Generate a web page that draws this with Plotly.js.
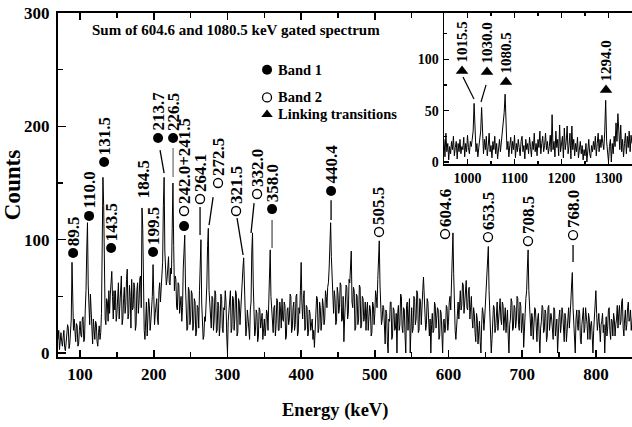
<!DOCTYPE html>
<html><head><meta charset="utf-8">
<script src="https://cdn.plot.ly/plotly-3.0.1.min.js"></script>
<style>html,body{margin:0;padding:0;background:#fff}#chart{width:632px;height:427px}</style>
</head><body><div id="chart"></div>
<script>
// ---------- DATA ----------
// main spectrum: channel calibration (keV) and counts per channel
const MAIN_E_START = 70, MAIN_E_STEP = 1;
const mainCounts = [
 12,20,3,8,18,10,6,14,20,5,2,9,15,25,22,4,8,18,30,80,
 55,20,30,12,10,26,24,6,8,20,28,16,14,30,32,10,12,38,55,90,
 115,60,48,25,52,35,20,8,30,22,12,28,26,10,6,18,24,12,18,35,
 95,155,130,58,30,25,48,45,28,55,35,52,60,72,50,30,55,38,55,28,
 35,58,62,30,40,55,68,25,30,48,58,35,42,65,74,30,35,60,50,22,
 65,38,40,62,58,20,25,55,62,35,45,66,68,40,128,110,48,20,12,35,
 45,15,30,48,42,20,28,40,50,78,60,25,35,42,48,30,25,55,62,45,
 58,72,80,130,155,90,72,60,65,80,85,62,60,75,70,110,150,95,55,68,
 65,40,38,62,60,35,45,50,28,40,75,95,104,60,40,20,22,58,55,25,
 30,55,52,20,25,48,45,15,18,42,40,22,55,80,100,45,30,12,15,32,
 28,40,60,95,110,55,45,25,22,50,48,20,30,55,52,18,20,45,42,15,
 25,52,50,22,18,40,38,55,45,15,0,28,40,50,55,18,22,50,48,20,
 30,55,52,15,18,48,45,25,40,52,60,75,84,55,40,15,22,38,30,12,
 12,38,45,90,106,60,40,15,20,38,35,10,15,40,38,22,28,35,12,25,
 30,15,22,38,35,20,40,65,91,50,35,22,18,40,42,15,25,48,45,20,
 20,45,38,22,48,30,28,45,42,12,15,38,40,25,30,52,50,18,22,40,
 45,20,25,50,52,15,18,40,35,55,80,45,30,48,55,20,22,42,40,15,
 18,38,35,20,25,30,12,20,5,25,30,50,48,18,22,45,40,20,28,48,
 42,25,30,55,50,40,58,62,75,100,115,85,60,40,35,55,48,25,28,58,
 52,35,40,62,60,28,30,50,10,30,45,60,58,30,35,65,62,75,90,45,
 40,58,55,20,22,52,50,25,30,60,58,22,25,50,48,28,32,45,20,38,
 45,20,28,42,38,15,18,45,42,25,35,55,50,40,65,85,99,60,45,25,
 30,42,40,15,8,38,35,10,0,30,28,45,45,12,15,40,38,20,22,35,
 0,35,42,20,25,52,50,22,18,40,38,15,0,42,45,20,30,48,0,28,
 40,18,22,50,48,25,30,55,52,18,20,48,45,25,35,55,67,45,40,20,
 25,48,45,20,15,30,0,25,35,18,20,45,42,22,28,40,38,12,15,38,
 35,15,0,28,30,18,22,42,40,20,28,45,50,38,62,90,106,70,35,20,
 12,25,40,45,30,50,55,38,42,62,60,35,48,55,64,40,38,55,58,30,
 45,50,30,22,40,35,18,10,35,30,8,20,28,10,0,25,40,35,20,30,
 45,50,60,80,94,55,30,15,0,12,25,42,40,18,22,40,45,20,30,48,
 48,30,25,45,42,20,35,40,18,28,38,15,0,25,30,48,45,20,22,42,
 40,22,28,50,48,25,20,45,42,18,30,35,5,28,35,48,55,75,91,55,
 40,30,15,35,30,12,22,40,38,15,10,30,35,15,0,22,28,42,40,18,
 20,38,35,10,15,40,42,20,25,35,30,15,12,40,38,15,22,30,0,20,
 32,38,18,25,40,35,25,10,35,30,10,25,30,40,22,30,45,60,71,40,
 30,15,0,30,38,25,20,38,35,12,8,25,30,40,18,22,40,35,25,12,
 35,30,12,25,28,15,0,20,30,40,55,35,20,28,35,22,10,25,28,35,
 18,25,0,20,32,15,22,38,40,20,12,30,28,15,35,30,15,25,30,42,
 22,35,42,25,28,45,48,22,15,30,38,20,25,40,45,28,30,38,20,28,
 35
];
// inset spectrum
const INSET_E_START = 950, INSET_E_STEP = 2;
const insetCounts = [
 22, 5, 28, 10, 18, 2, 15, 8, 20, 12,
 25, 6, 14, 20, 3, 18, 10, 22, 8, 15,
 12, 24, 5, 18, 10, 26, 14, 8, 20, 15,
 22, 30, 57, 25, 10, 18, 5, 14, 20, 30,
 53, 18, 8, 22, 12, 25, 6, 15, 28, 10,
 16, 4, 20, 12, 25, 8, 18, 3, 14, 22,
 10, 18, 30, 40, 48, 66, 35, 12, 20, 5,
 16, 24, 8, 20, 12, 26, 4, 18, 10, 22,
 14, 6, 20, 25, 10, 16, 3, 22, 12, 18,
 8, 24, 15, 5, 20, 12, 28, 10, 18, 6,
 22, 14, 30, 8, 18, 25, 10, 16, 28, 12,
 20, 8, 15, 26, 10, 46, 12, 20, 5, 30,
 14, 22, 6, 36, 10, 18, 25, 4, 33, 12,
 20, 35, 8, 16, 28, 3, 35, 12, 22, 6,
 18, 10, 24, 4, 14, 20, 8, 16, 2, 12,
 6, 18, 0, 14, 22, 8, 4, 16, 10, 20,
 12, 25, 6, 18, 28, 10, 22, 14, 26, 18,
 12, 30, 60, 20, 10, 0, 15, 22, 0, 18,
 8, 25, 15, 38, 20, 47, 30, 12, 36, 10,
 22, 5, 18, 28, 8, 25, 14, 30, 10, 26,
 18
];
// peak labels (main) and their band: 1 = Band 1 (filled), 2 = Band 2 (open), 12 = both, 0 = none
const peakLabels = ["89.5","110.0","131.5","143.5","184.5","199.5","213.7","226.5","242.0+241.5","264.1",
                    "272.5","321.5","332.0","358.0","440.4","505.5","604.6","653.5","708.5","768.0"];
const peakBands  = [1,1,1,1,0,1,1,1,12,2, 2,2,2,1,1,2,2,2,2,2];
// linking transitions (inset)
const linkLabels = ["1015.5","1030.0","1080.5","1294.0"];
// tick labels
const mainXTicks = [100,200,300,400,500,600,700,800];
const mainYTicks = [0,100,200,300];
const insetXTicks = [1000,1100,1200,1300];
const insetYTicks = [0,50,100];
const titleText = "Sum of 604.6 and 1080.5 keV gated spectrum";
const xTitleText = "Energy (keV)";
const yTitleText = "Counts";
const legendNames = ["Band 1","Band 2","Linking transitions"];

// ---------- LAYOUT POSITIONS (label placement, not data) ----------
const peakMarkPos = [[90.5,88.2],[112.2,121],[132.6,168.5],[142.1,92.6],[185.5,135],[199,89.1],[205.8,189.7],[226.2,189.7],[241.1,125.3],[262.8,135.9],
                     [287.2,150],[311.7,125.3],[340.2,140.3],[360.5,127],[440.6,143],[505.7,106.8],[595.3,105],[653.6,102.3],[707.9,98.8],[769,104.1]];
const extraFilled = [[241.1,112]];
const leaders = [
  [208.5,179,214,158.8,'black'],[226.2,180.9,226.2,155.3,'#777'],[262.8,128.8,262.8,104.1,'black'],
  [280.5,137.6,275,112.9,'black'],[313,119.1,321.2,86.5,'black'],[336.1,132.3,332,105.9,'black'],
  [360.5,117.3,360.5,92.6,'#555'],[440.6,134.9,440.6,117.3,'black'],[769,95.3,769,80.3,'black']
];
const linkMarkPos = [[988.3,88.6],[1041.5,87.6],[1081.9,77.9],[1294.7,70.1]];
const linkLeaders = [[990.4,82.8,1013.8,61.3],[1039.4,75,1028.7,58.4]];
const legendMarkPos = [[353.7,250],[353.7,225.5],[353.7,210.5]];

// ---------- BUILD ----------
const mainE = mainCounts.map((_, i) => MAIN_E_START + i*MAIN_E_STEP);
const insetE = insetCounts.map((_, i) => INSET_E_START + i*INSET_E_STEP);
const FONT = 'Liberation Serif';

const filledIdx = peakBands.map((b,i)=> b===1 ? i : -1).filter(i=>i>=0);
const openIdx = peakBands.map((b,i)=> (b===2||b===12) ? i : -1).filter(i=>i>=0);

const traces = [
  {x: mainE, y: mainCounts, type:'scatter', mode:'lines', line:{color:'black', width:1}, xaxis:'x', yaxis:'y', hoverinfo:'skip'},
  {x: insetE, y: insetCounts, type:'scatter', mode:'lines', line:{color:'black', width:1}, xaxis:'x2', yaxis:'y2', hoverinfo:'skip'},
  {x: filledIdx.map(i=>peakMarkPos[i][0]).concat(extraFilled.map(p=>p[0])),
   y: filledIdx.map(i=>peakMarkPos[i][1]).concat(extraFilled.map(p=>p[1])),
   type:'scatter', mode:'markers', marker:{symbol:'circle', size:10, color:'black'}, cliponaxis:false, xaxis:'x', yaxis:'y'},
  {x: openIdx.map(i=>peakMarkPos[i][0]), y: openIdx.map(i=>peakMarkPos[i][1]),
   type:'scatter', mode:'markers', marker:{symbol:'circle-open', size:9, color:'black', line:{width:1.3, color:'black'}}, cliponaxis:false, xaxis:'x', yaxis:'y'},
  {x: linkMarkPos.map(p=>p[0]), y: linkMarkPos.map(p=>p[1]), type:'scatter', mode:'markers',
   marker:{symbol:'triangle-up', size:11, color:'black'}, cliponaxis:false, xaxis:'x2', yaxis:'y2'},
  {x: [legendMarkPos[0][0]], y:[legendMarkPos[0][1]], type:'scatter', mode:'markers', marker:{symbol:'circle', size:10, color:'black'}, xaxis:'x', yaxis:'y'},
  {x: [legendMarkPos[1][0]], y:[legendMarkPos[1][1]], type:'scatter', mode:'markers', marker:{symbol:'circle-open', size:9, color:'black', line:{width:1.3,color:'black'}}, xaxis:'x', yaxis:'y'},
  {x: [legendMarkPos[2][0]], y:[legendMarkPos[2][1]], type:'scatter', mode:'markers', marker:{symbol:'triangle-up', size:10, color:'black'}, xaxis:'x', yaxis:'y'}
];

const annotations = [];
peakLabels.forEach((t,i)=>{
  annotations.push({x: peakMarkPos[i][0], y: peakMarkPos[i][1], xref:'x', yref:'y', text:t, showarrow:false,
    textangle:-90, xanchor:'center', yanchor:'bottom', yshift: peakBands[i]===0 ? 0 : 5,
    font:{family:FONT, size:17, color:'black', weight:'bold'}});
});
linkLabels.forEach((t,i)=>{
  annotations.push({x: linkMarkPos[i][0], y: linkMarkPos[i][1], xref:'x2', yref:'y2', text:t, showarrow:false,
    textangle:-90, xanchor:'center', yanchor:'bottom', yshift:6,
    font:{family:FONT, size:15, color:'black', weight:'bold'}});
});
legendNames.forEach((t,i)=>{
  annotations.push({x: legendMarkPos[i][0], y: legendMarkPos[i][1], xref:'x', yref:'y', text:t, showarrow:false,
    xanchor:'left', yanchor:'middle', xshift:9, font:{family:FONT, size:14.5, color:'black', weight:'bold'}});
});
annotations.push({x:0.31, y:0.95, xref:'paper', yref:'paper', text:titleText, showarrow:false,
  xanchor:'center', yanchor:'middle', font:{family:FONT, size:15, color:'black', weight:'bold'}});
// x-axis title placed as text under the axis (centred where the reference has it)
annotations.push({x:(334.5-58)/574, y:-(410-357)/344, xref:'paper', yref:'paper', text:xTitleText, showarrow:false,
  xanchor:'center', yanchor:'middle', font:{family:FONT, size:18.5, color:'black', weight:'bold'}});

const shapes = leaders.map(l=>({type:'line', xref:'x', yref:'y', x0:l[0], y0:l[1], x1:l[2], y1:l[3], line:{color:l[4], width:1.3}}))
  .concat(linkLeaders.map(l=>({type:'line', xref:'x2', yref:'y2', x0:l[0], y0:l[1], x1:l[2], y1:l[3], line:{color:'black', width:1.2}})));

const tickFont = {family:FONT, size:17, color:'black', weight:'bold'};
const insetTickFont = {family:FONT, size:14, color:'black', weight:'bold'};
const axisBase = {showgrid:false, zeroline:false, showline:true, linecolor:'black', ticks:'inside', tickcolor:'black', fixedrange:true};

const layout = {
  width:632, height:427,
  margin:{l:58, r:0, t:13, b:70, pad:0},
  paper_bgcolor:'white', plot_bgcolor:'white',
  showlegend:false,
  font:{family:FONT, color:'black'},
  xaxis: Object.assign({}, axisBase, {domain:[0,1], range:[70,849], linewidth:2, mirror:'ticks', ticklen:7, tickwidth:1.5,
    tickvals: mainXTicks, ticktext: mainXTicks.map(String), tickfont: tickFont, ticklabelstandoff:1,
    minor:{dtick:50, tick0:50, ticks:'inside', ticklen:5, tickwidth:1.2, tickcolor:'black'}}),
  yaxis: Object.assign({}, axisBase, {domain:[0,1], range:[-3.5,300], linewidth:2, mirror:false, ticklen:8, tickwidth:1.5,
    tickvals: mainYTicks, ticktext: mainYTicks.map(String), tickfont: tickFont, ticklabelstandoff:3,
    minor:{dtick:50, tick0:50, ticks:'inside', ticklen:5, tickwidth:1.2, tickcolor:'black'},
    title:{text:yTitleText, font:{family:FONT, size:23, color:'black', weight:'bold'}, standoff:5}}),
  xaxis2: Object.assign({}, axisBase, {domain:[0.6725,1], anchor:'y2', range:[950,1350], linewidth:1.5, mirror:'ticks', ticklen:5, tickwidth:1.2,
    tickvals: insetXTicks, ticktext: insetXTicks.map(String), tickfont: insetTickFont, ticklabelstandoff:1,
    minor:{dtick:50, tick0:950, ticks:'inside', ticklen:3, tickcolor:'black'}}),
  yaxis2: Object.assign({}, axisBase, {domain:[0.561,1], anchor:'x2', range:[-2,145], linewidth:1.5, mirror:false, ticklen:5, tickwidth:1.2,
    tickvals: insetYTicks, ticktext: insetYTicks.map(String), tickfont: insetTickFont, ticklabelstandoff:1,
    minor:{dtick:25, tick0:0, ticks:'inside', ticklen:3, tickcolor:'black'}}),
  annotations: annotations,
  shapes: shapes
};

Plotly.newPlot('chart', traces, layout, {staticPlot:true, displayModeBar:false});
</script>
</body></html>
